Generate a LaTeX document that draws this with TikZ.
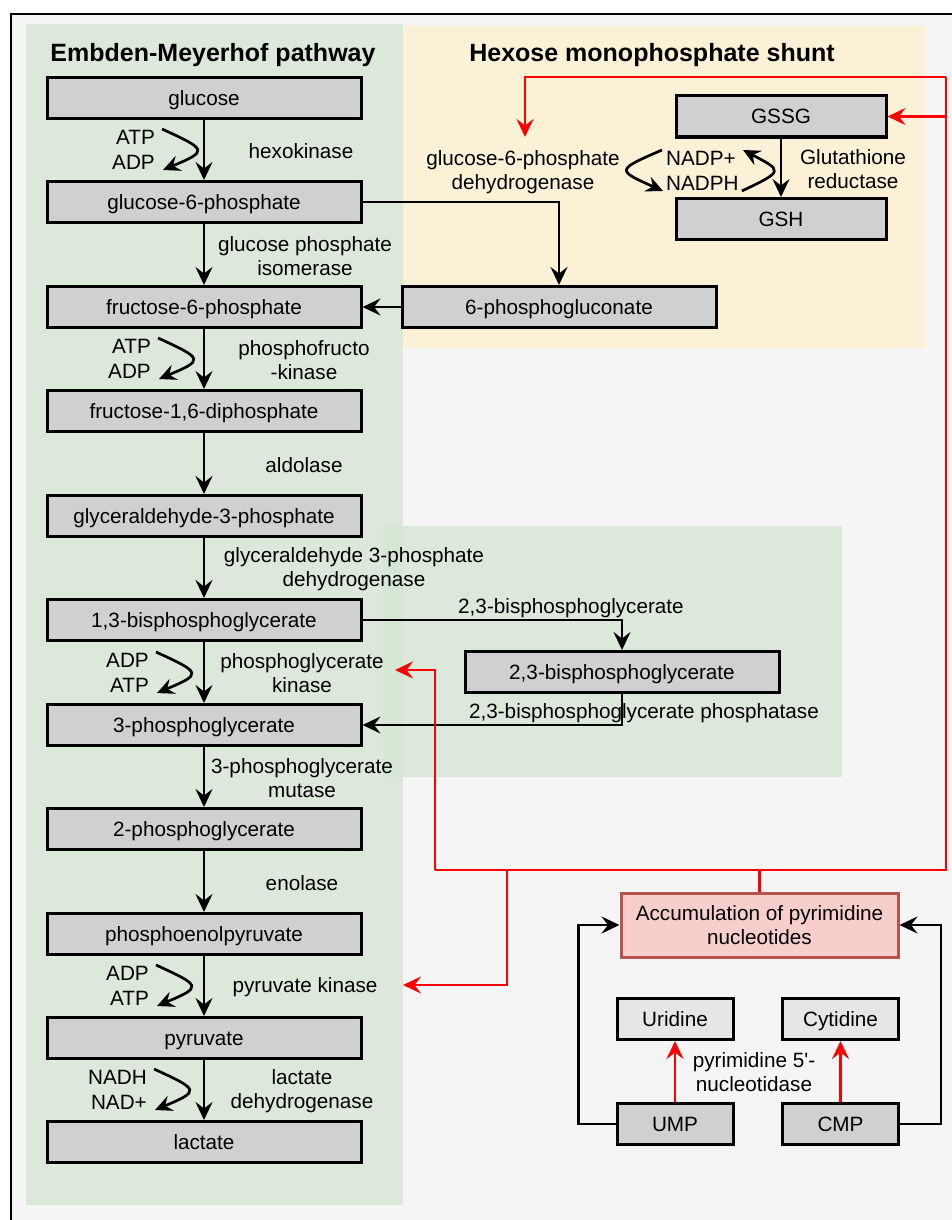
\documentclass[tikz,border=0pt]{standalone}
\usepackage{fontspec}
\setmainfont{Liberation Sans}
\usetikzlibrary{arrows.meta}

\definecolor{framebg}{RGB}{245,245,245}
\definecolor{panelgreen}{RGB}{212,230,210}
\definecolor{panelyellow}{RGB}{251,241,214}
\definecolor{boxgray}{RGB}{208,208,208}
\definecolor{lightbox}{RGB}{230,230,230}
\definecolor{accfill}{RGB}{248,206,204}
\definecolor{accdraw}{RGB}{184,84,80}
\definecolor{pathred}{RGB}{255,0,0}

\newcommand{\lblfont}{\fontsize{20.7}{24.5}\selectfont}
\newcommand{\headfont}{\fontsize{25}{30}\selectfont\bfseries}

\tikzset{
  metab/.style={draw, line width=3pt, fill=boxgray, minimum width=314pt,
    minimum height=41pt, inner sep=0pt, text height=18.8pt, text depth=4pt,
    font=\lblfont},
  lbl/.style={inner sep=0pt, align=center, font=\lblfont},
  arr/.style={line width=2.7pt, -{Stealth[length=18pt,width=17pt,inset=6.5pt]}},
  redarr/.style={arr, draw=pathred},
  redline/.style={line width=2.7pt, draw=pathred},
  cof/.style={line width=2.7pt, -{Stealth[length=17pt,width=16pt,inset=6pt]}}
}

% cofactor pair with curved arrow: name, east x, mid y, upper text, lower text
\newcommand{\cofactor}[5]{
  \node[lbl, anchor=east] (#1top) at (#2,#3-12.5) {#4};
  \node[lbl, anchor=east] (#1bot) at (#2,#3+12.5) {#5};
  \draw[cof] ([shift={(7,-8.5)}]#1top.east) .. controls +(46,21) and +(45,-19) .. ([shift={(8,7.5)}]#1bot.east);
}

\begin{document}
\begin{tikzpicture}[x=1pt,y=-1pt]
  \useasboundingbox (0,0) rectangle (952,1220);

  % frame and panels
  \draw[line width=2.8pt, fill=framebg] (11,14) rectangle (990,1260);
  \fill[panelgreen, fill opacity=0.75] (26,24) rectangle (403,1205);
  \fill[panelyellow] (403,26) rectangle (925,348);
  \fill[panelgreen, fill opacity=0.75] (383,526) rectangle (842,777);

  \node[lbl, font=\headfont] (emtitle) at (213,55) {Embden-Meyerhof pathway};
  \node[lbl, font=\headfont] (hmstitle) at (652,55) {Hexose monophosphate shunt};

  % glycolysis
  \node[metab] (glc) at (204,98) {glucose};
  \node[metab] (g6p) at (204,202) {glucose-6-phosphate};
  \node[metab] (f6p) at (204,307) {fructose-6-phosphate};
  \node[metab] (f16bp) at (204,411) {fructose-1,6-diphosphate};
  \node[metab] (gap) at (204,516) {glyceraldehyde-3-phosphate};
  \node[metab] (bpg13) at (204,620) {1,3-bisphosphoglycerate};
  \node[metab] (pg3) at (204,725) {3-phosphoglycerate};
  \node[metab] (pg2) at (204,829) {2-phosphoglycerate};
  \node[metab] (pep) at (204,934) {phosphoenolpyruvate};
  \node[metab] (pyr) at (204,1038) {pyruvate};
  \node[metab] (lac) at (204,1142) {lactate};

  \draw[arr] (glc) -- (g6p);
  \draw[arr] (g6p) -- (f6p);
  \draw[arr] (f6p) -- (f16bp);
  \draw[arr] (f16bp) -- (gap);
  \draw[arr] (gap) -- (bpg13);
  \draw[arr] (bpg13) -- (pg3);
  \draw[arr] (pg3) -- (pg2);
  \draw[arr] (pg2) -- (pep);
  \draw[arr] (pep) -- (pyr);
  \draw[arr] (pyr) -- (lac);

  \node[lbl] (hk) at (301,151) {hexokinase};
  \node[lbl] (gpi) at (305,256) {glucose phosphate\\isomerase};
  \node[lbl] (pfk) at (304,360) {phosphofructo\\-kinase};
  \node[lbl] (ald) at (304,465) {aldolase};
  \node[lbl] (gapdh) at (354,569) {glyceraldehyde 3-phosphate\\dehydrogenase};
  \node[lbl] (pgk) at (302,673) {phosphoglycerate\\kinase};
  \node[lbl] (pgm) at (302,778) {3-phosphoglycerate\\mutase};
  \node[lbl] (eno) at (302,883) {enolase};
  \node[lbl] (pk) at (305,987) {pyruvate kinase};
  \node[lbl] (ldh) at (302,1091) {lactate\\dehydrogenase};

  \cofactor{hkc}{155}{150}{ATP}{ADP}
  \cofactor{pfkc}{151}{359}{ATP}{ADP}
  \cofactor{pgkc}{149}{673}{ADP}{ATP}
  \cofactor{pkc}{149}{986}{ADP}{ATP}
  \cofactor{ldhc}{147}{1090}{NADH}{NAD+}

  % hexose monophosphate shunt
  \node[metab] (pgl6) at (559,307) {6-phosphogluconate};
  \node[metab, minimum width=210pt] (gssg) at (781,116.5) {GSSG};
  \node[metab, minimum width=210pt] (gsh) at (781,219) {GSH};
  \draw[arr] (g6p.east) -| (pgl6.north);
  \draw[arr] (pgl6) -- (f6p);
  \draw[arr] (gssg) -- (gsh);

  \node[lbl] (g6pd) at (523,172) {glucose-6-phosphate\\dehydrogenase};
  \node[lbl] (gr) at (853,169) {Glutathione\\reductase};
  \node[lbl, anchor=west] (nadpox) at (666,158) {NADP+};
  \node[lbl, anchor=west] (nadph) at (666,183) {NADPH};
  \draw[cof] ([shift={(-4,-8)}]nadpox.west) .. controls +(-46,20) and +(-47,-21) .. ([shift={(-3,8)}]nadph.west);
  \draw[cof] ([shift={(3,8)}]nadph.east) .. controls +(42,-20) and +(40,21) .. ([shift={(7,-8)}]nadpox.east);

  % 2,3-bisphosphoglycerate shunt
  \node[metab] (bpg23) at (622,672) {2,3-bisphosphoglycerate};
  \draw[arr] (bpg13.east) -| (bpg23.north);
  \draw[arr] (bpg23.south) |- (pg3.east);
  \node[lbl] (bpgm) at (571,608) {2,3-bisphosphoglycerate};
  \node[lbl] (bpgp) at (644,713) {2,3-bisphosphoglycerate phosphatase};

  % pyrimidine nucleotides
  \node[metab, draw=accdraw, fill=accfill, minimum width=277pt, minimum height=64pt,
    text height=, text depth=, align=center] (accum) at (759.5,925) {Accumulation of pyrimidine\\nucleotides};
  \node[metab, fill=lightbox, minimum width=116pt] (uri) at (675,1019) {Uridine};
  \node[metab, fill=lightbox, minimum width=116pt] (cyt) at (840.5,1019) {Cytidine};
  \node[metab, minimum width=116pt] (ump) at (675,1124) {UMP};
  \node[metab, minimum width=116pt] (cmp) at (840.5,1124) {CMP};
  \node[lbl] (p5n) at (754,1072) {pyrimidine 5\textquotesingle-\\nucleotidase};

  \draw[arr] (ump.west) -- ++(-37,0) |- (accum.west);
  \draw[arr] (cmp.east) -- ++(41,0) |- (accum.east);
  \draw[redarr] (ump) -- (uri);
  \draw[redarr] (cmp) -- (cyt);

  % inhibition paths
  \coordinate (hubL) at (435,870);
  \coordinate (hubP) at (507,870);
  \coordinate (hubR) at (946,870);
  \coordinate (topR) at (946,77);
  \coordinate (g6pdtip) at (525,137);
  \coordinate (pgktip) at (395,670);
  \coordinate (pktip) at (403,985);
  \draw[redline] (accum.north) -- (accum.north |- hubR);
  \draw[redline] (hubL) -- (hubR) -- (topR);
  \draw[redarr] (topR) -| (g6pdtip);
  \draw[redarr] (gssg.east -| topR) -- (gssg.east);
  \draw[redarr] (hubL) |- (pgktip);
  \draw[redarr] (hubP) |- (pktip);
\end{tikzpicture}
\end{document}
